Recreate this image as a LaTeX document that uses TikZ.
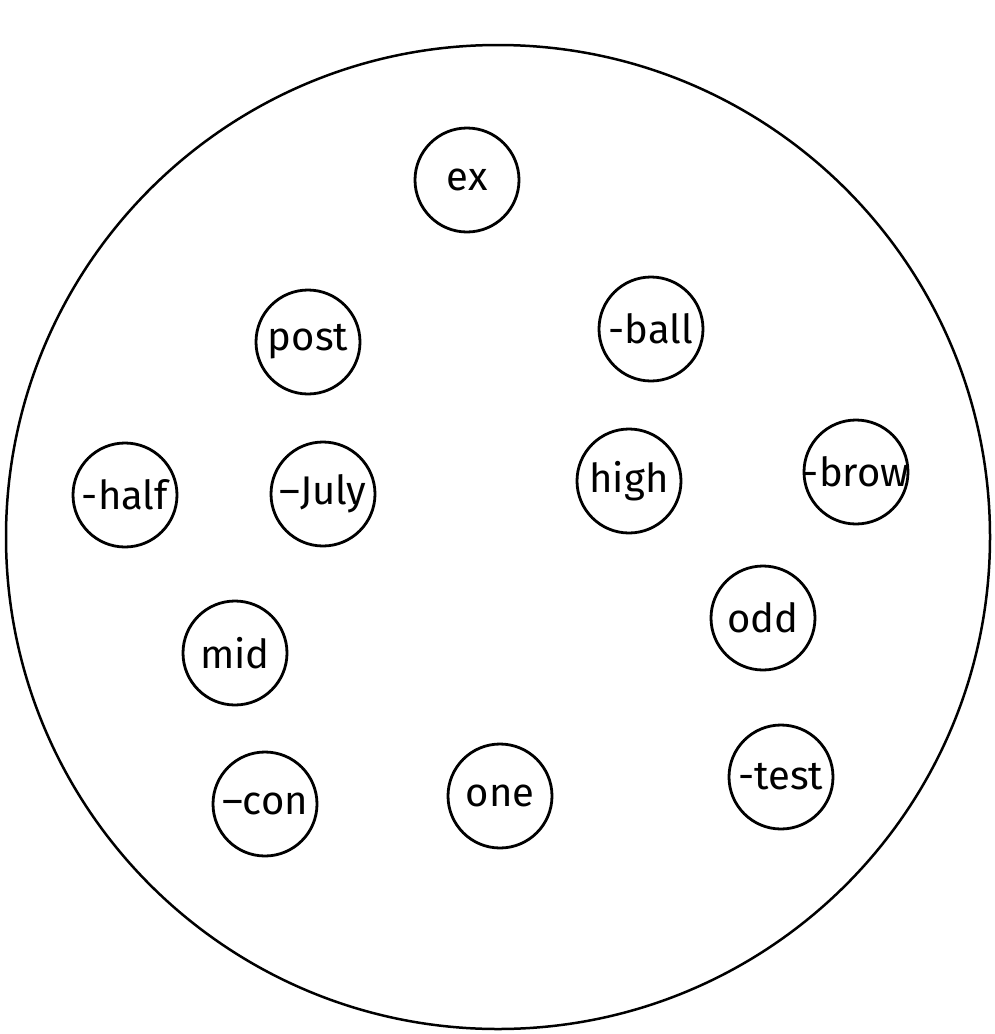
\documentclass[tikz,border=0pt]{standalone}
\usepackage{fontspec}
\setmainfont{Fira Sans}
\begin{document}
\begin{tikzpicture}[x=1pt,y=-1pt,
  bub/.style={circle,draw,line width=2.8pt,minimum size=104pt,inner sep=0pt},
  lbl/.style={font=\fontsize{40}{44}\selectfont,inner sep=0pt}]
\useasboundingbox (0,0) rectangle (994,1034);
\node[circle,draw,line width=2.5pt,minimum size=984pt,inner sep=0pt] (plate) at (498,537) {};
\node[bub,label={[lbl]center:ex}] (ex) at (467,180) {};
\node[bub,label={[lbl]center:post}] (post) at (308,342) {};
\node[bub,label={[lbl]center:-ball}] (ball) at (651,329) {};
\node[bub,label={[lbl]center:-half}] (half) at (125,495) {};
\node[bub,label={[lbl]center:--July}] (july) at (323,494) {};
\node[bub,label={[lbl]center:high}] (high) at (629,481) {};
\node[bub,label={[lbl]center:-brow}] (brow) at (856,472) {};
\node[bub,label={[lbl]center:odd}] (odd) at (763,618) {};
\node[bub,label={[lbl]center:mid}] (mid) at (235,653) {};
\node[bub,label={[lbl]center:--con}] (con) at (265,804) {};
\node[bub,label={[lbl]center:one}] (one) at (500,796) {};
\node[bub,label={[lbl]center:-test}] (test) at (781,777) {};
\end{tikzpicture}
\end{document}
